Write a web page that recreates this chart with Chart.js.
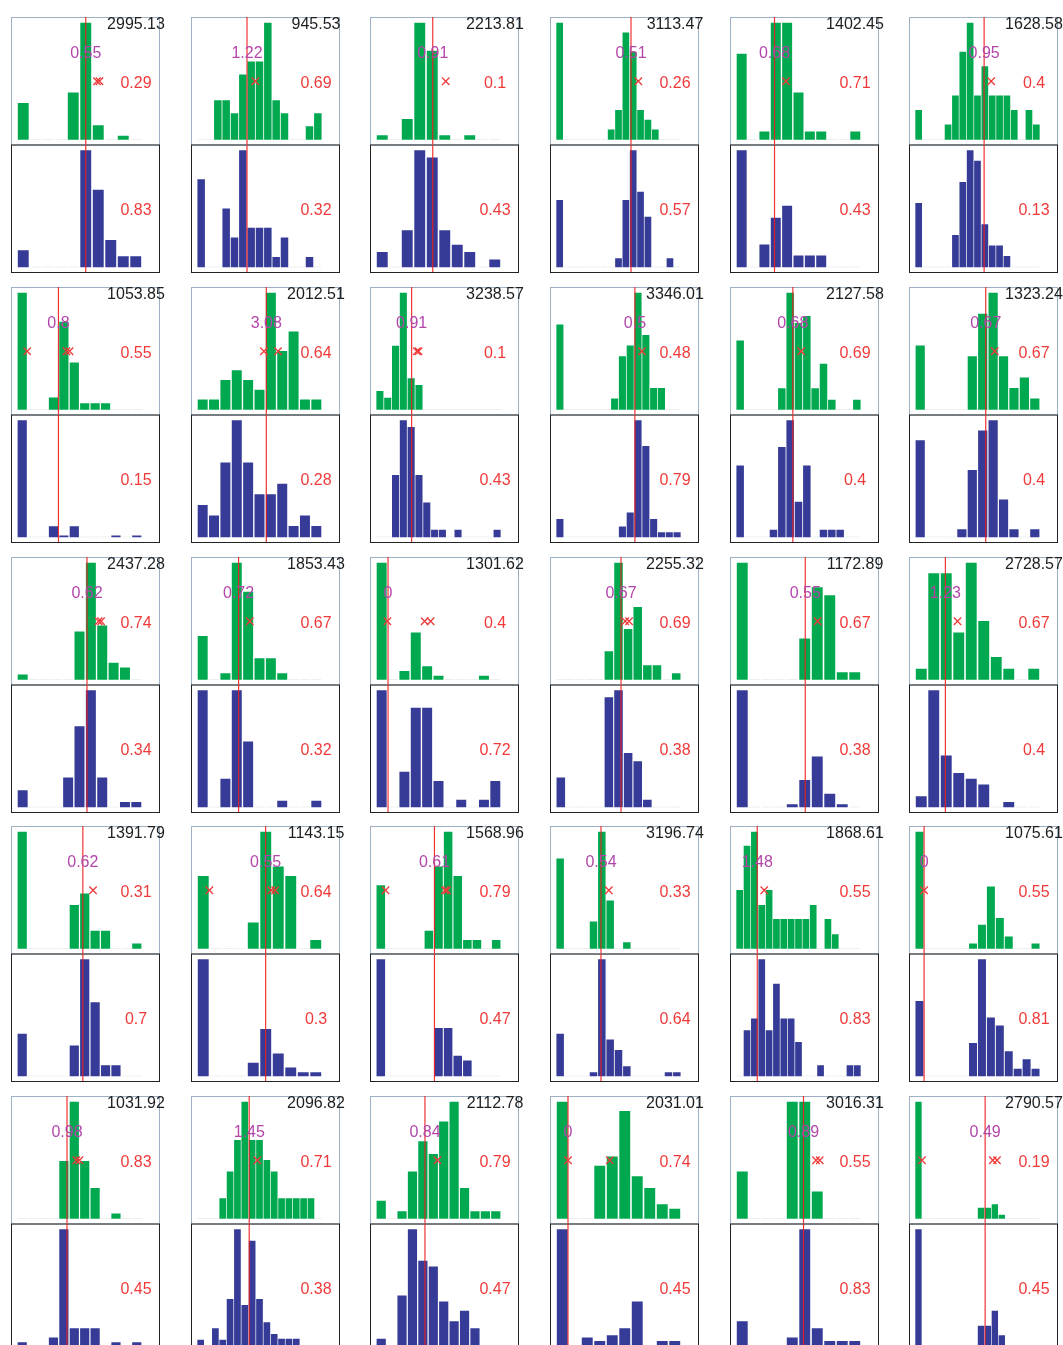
<!DOCTYPE html>
<html>
<head>
<meta charset="utf-8">
<script src="https://cdn.jsdelivr.net/npm/chart.js@4.4.1/dist/chart.umd.min.js"></script>
<style>
  html, body { margin: 0; padding: 0; background: #fff; overflow: hidden; }
  body { width: 1063px; height: 1345px; position: relative; }
  canvas { position: absolute; }
</style>
</head>
<body>
<script>
// panel order: row by row, 6 per row
const totals = ['2995.13', '945.53', '2213.81', '3113.47', '1402.45', '1628.58',
  '1053.85', '2012.51', '3238.57', '3346.01', '2127.58', '1323.24',
  '2437.28', '1853.43', '1301.62', '2255.32', '1172.89', '2728.57',
  '1391.79', '1143.15', '1568.96', '3196.74', '1868.61', '1075.61',
  '1031.92', '2096.82', '2112.78', '2031.01', '3016.31', '2790.57'];

const lineLabels = ['0.55', '1.22', '0.91', '0.51', '0.68', '0.95',
  '0.8', '3.08', '0.91', '0.5', '0.68', '0.67',
  '0.62', '0.72', '0', '0.67', '0.55', '1.23',
  '0.62', '0.55', '0.61', '0.54', '1.48', '0',
  '0.98', '1.45', '0.84', '0', '0.89', '0.49'];

const topScores = ['0.29', '0.69', '0.1', '0.26', '0.71', '0.4',
  '0.55', '0.64', '0.1', '0.48', '0.69', '0.67',
  '0.74', '0.67', '0.4', '0.69', '0.67', '0.67',
  '0.31', '0.64', '0.79', '0.33', '0.55', '0.55',
  '0.83', '0.71', '0.79', '0.74', '0.55', '0.19'];

const bottomScores = ['0.83', '0.32', '0.43', '0.57', '0.43', '0.13',
  '0.15', '0.28', '0.43', '0.79', '0.4', '0.4',
  '0.34', '0.32', '0.72', '0.38', '0.38', '0.4',
  '0.7', '0.3', '0.47', '0.64', '0.83', '0.81',
  '0.45', '0.38', '0.47', '0.45', '0.83', '0.45'];

// red line position, in bin units
const linePos = [5.0, 5.5, 4.04, 9.7, 2.89, 8.9,
  3.48, 5.6, 4.06, 9.6, 6.32, 6.29,
  5.66, 3.16, 0.56, 6.26, 5.04, 1.93,
  5.82, 4.99, 5.58, 4.9, 2.39, 0.52,
  4.3, 6.6, 4.2, 0.46, 4.9, 9.6];

// red x marks, in bin units
const markPos = [[5.9, 6.1], [6.5], [5.08], [10.7], [3.9], [9.86],
  [0.48, 4.25, 4.55], [5.39, 6.63], [4.73, 4.95], [10.5], [7.32], [7.16],
  [6.68, 6.9], [4.15], [0.5, 3.78, 4.31], [6.7, 7.1], [6.03], [2.9],
  [6.8], [0.49, 5.45, 5.75], [0.49, 6.67, 6.89], [5.84], [3.34], [0.52],
  [5.2, 5.5], [7.7], [5.4], [0.46, 3.8], [5.9, 6.2], [0.5, 10.7, 11.3]];

const greenBins = [
  [31, 0, 0, 0, 40, 100, 12, 0, 3, 0],
  [0, 0, 3, 3, 2, 5, 6, 6, 9, 3, 2, 0, 0, 1, 2],
  [1, 0, 5, 29, 22, 1, 0, 1, 0, 0],
  [12, 0, 0, 0, 0, 0, 0, 1, 3, 11, 9, 3, 2, 1, 0, 0, 0],
  [11, 0, 1, 15, 15, 6, 1, 1, 0, 0, 1],
  [2, 0, 0, 0, 1, 3, 6, 8, 3, 5, 3, 3, 3, 2, 0, 2, 1],
  [20, 0, 0, 2, 15, 8, 1, 1, 1, 0, 0, 0],
  [1, 1, 3, 4, 3, 2, 12, 6, 8, 1, 1],
  [2.7, 1.7, 9.4, 17.3, 4.6, 3.6, 0, 0, 0, 0, 0, 0, 0, 0, 0, 0],
  [8, 0, 0, 0, 0, 0, 0, 1, 5, 6, 11, 7, 2, 2, 0, 0],
  [59, 0, 0, 0, 0, 18, 100, 74, 80, 18, 39, 8, 0, 0, 8],
  [6, 0, 0, 0, 0, 5, 9, 11, 5, 2, 3, 1],
  [4, 0, 0, 0, 0, 41, 100, 46, 14, 10, 0],
  [37, 0, 5, 100, 75, 18, 18, 5, 0, 0, 0],
  [100, 0, 7, 40, 11, 3, 0, 0, 0, 3, 0],
  [0, 0, 0, 0, 0, 24, 100, 43, 62, 12, 12, 0, 5],
  [100, 0, 0, 0, 0, 35, 79, 72, 6, 6],
  [9, 91, 91, 40, 100, 50, 19, 9, 0, 9],
  [100, 0, 0, 0, 0, 37, 47, 15, 15, 0, 0, 4],
  [62, 0, 0, 0, 22, 100, 70, 62, 0, 7],
  [54, 0, 0, 0, 0, 15, 70, 100, 62, 7, 7, 0, 7],
  [77, 0, 0, 0, 23, 100, 41, 0, 5, 0, 0, 0, 0, 0, 0],
  [50, 88, 100, 37, 50, 25, 25, 25, 25, 25, 37, 0, 25, 12, 0, 0, 0],
  [100, 0, 0, 0, 0, 0, 4, 20, 53, 26, 10, 0, 0, 4],
  [0, 0, 0, 0, 49, 100, 49, 26, 0, 4, 0, 0],
  [0, 0, 0, 17, 40, 67, 100, 67, 67, 50, 40, 17, 17, 17, 17, 17, 0],
  [15, 0, 6, 40, 66, 55, 83, 100, 26, 6, 6, 6],
  [100, 0, 0, 45, 53, 92, 36, 26, 12, 8],
  [40, 0, 0, 0, 100, 100, 23, 0, 0, 0],
  [100, 0, 0, 0, 0, 0, 0, 0, 0, 9, 9, 12, 3, 0, 0, 0, 0, 0],
];

const blueBins = [
  [14, 0, 0, 0, 0, 100, 66, 23, 9, 9],
  [9, 0, 0, 6, 3, 12, 4, 4, 4, 1, 3, 0, 0, 1, 0],
  [2, 0, 5, 16, 15, 5, 3, 2, 0, 1],
  [8, 0, 0, 0, 0, 0, 0, 0, 1, 8, 14, 9, 6, 0, 0, 1, 0],
  [10.5, 0, 2, 4.4, 5.5, 1, 1, 1, 0, 0, 0],
  [6, 0, 0, 0, 0, 3, 8, 11, 10, 4, 2, 2, 1, 0, 0, 0, 0],
  [100, 0, 0, 9, 1, 9, 0, 0, 0, 1, 0, 1],
  [3, 2, 7, 11, 7, 4, 4, 5, 1, 2, 1],
  [0, 0, 9, 17, 16, 9, 5, 1, 1, 0, 1, 0, 0, 0, 0, 1],
  [4, 0, 0, 0, 0, 0, 0, 0, 2.3, 5.5, 26.5, 20.6, 4, 1, 1, 1],
  [61, 0, 0, 0, 6, 77, 100, 30, 61, 0, 6, 6, 6, 0, 0],
  [13, 0, 0, 0, 1, 9, 14.3, 15.7, 5, 1, 0, 1],
  [14, 0, 0, 0, 25, 69, 100, 25, 0, 4, 4],
  [100, 0, 24, 100, 56, 0, 0, 5, 0, 0, 5],
  [100, 0, 30, 85, 85, 22, 0, 6, 0, 6, 22],
  [25, 0, 0, 0, 0, 94, 100, 46, 39, 6, 0, 0, 0],
  [100, 0, 0, 0, 2, 23, 43, 11, 2, 0],
  [9, 100, 44, 29, 24, 19, 0, 4, 0, 0],
  [36, 0, 0, 0, 0, 26, 100, 63, 9, 9, 0, 0],
  [100, 0, 0, 0, 11, 40, 19, 7, 3, 3],
  [100, 0, 0, 0, 0, 0, 41, 41, 17, 13, 0, 0, 0],
  [36, 0, 0, 0, 3, 100, 31, 22, 8, 0, 0, 0, 0, 3, 3],
  [0, 39, 49, 100, 39, 79, 49, 49, 29, 0, 0, 9, 0, 0, 0, 9, 9],
  [64, 0, 0, 0, 0, 0, 28, 100, 50, 43, 21, 6, 14, 6],
  [3, 0, 0, 7, 100, 15, 15, 15, 0, 3, 0, 3],
  [5, 0, 15, 5, 40, 100, 35, 90, 40, 20, 10, 6, 6, 6, 0, 0, 0],
  [6, 0, 43, 100, 73, 68, 38, 21, 30, 15, 0, 0],
  [100, 0, 7, 4, 9, 15, 38, 0, 4, 4],
  [21, 0, 0, 0, 7, 100, 15, 4, 4, 4],
  [100, 0, 0, 0, 0, 0, 0, 0, 0, 17, 17, 30, 9, 0, 0, 0, 0, 0],
];

const COL_X = [11, 191, 370, 550, 730, 909];
const ROW_Y = [17, 287, 557, 826, 1096];

const GREEN = '#00a84f';
const BLUE = '#353b96';
const EMPTY = 'rgba(150,160,160,0.35)';
const RED = '#f03a3a';
const MAGENTA = '#b346aa';
const FONT = '16px "Liberation Sans", Arial, sans-serif';

Chart.defaults.font.family = '"Liberation Sans", Arial, sans-serif';

const panelText = {
  id: 'panelText',
  beforeDatasetsDraw(chart) {
    const { ctx, chartArea } = chart;
    const top = chart.scales.yTop, bot = chart.scales.yBot;
    ctx.save();
    ctx.lineWidth = 1;
    ctx.strokeStyle = '#9db0c4';
    ctx.strokeRect(chartArea.left + 0.5, top.top + 0.5, chartArea.width, top.height);
    ctx.strokeStyle = '#222';
    ctx.strokeRect(chartArea.left + 0.5, bot.top + 0.5, chartArea.width, bot.height);
    ctx.restore();
  },
  afterDatasetsDraw(chart, args, opts) {
    const { ctx, chartArea } = chart;
    const top = chart.scales.yTop, bot = chart.scales.yBot;
    const i = opts.idx;
    const cx = chartArea.left + 125;
    ctx.save();
    ctx.font = FONT;
    ctx.textAlign = 'center';
    ctx.textBaseline = 'alphabetic';
    ctx.fillStyle = '#1e1e1e';
    ctx.fillText(totals[i], cx, top.top + 11.5);
    ctx.fillStyle = MAGENTA;
    ctx.fillText(lineLabels[i], chart.scales.x.getPixelForValue(linePos[i]), top.top + 40.5);
    ctx.fillStyle = RED;
    ctx.fillText(topScores[i], cx, top.top + 70.5);
    ctx.fillText(bottomScores[i], cx, bot.top + 70.5);
    ctx.restore();
  }
};

function buildPanel(i) {
  const green = greenBins[i], blue = blueBins[i];
  const n = green.length;
  const binPx = 125 / n;
  const gMax = Math.max(...green), bMax = Math.max(...blue);
  const gLo = -gMax * 5 / 116.5, gHi = gMax * (1 + 6 / 116.5);
  const bLo = -bMax * 5 / 116.5, bHi = bMax * (1 + 6 / 116.5);

  const canvas = document.createElement('canvas');
  canvas.width = 184;
  canvas.height = 264;
  canvas.style.left = (COL_X[i % 6] - 4) + 'px';
  canvas.style.top = (ROW_Y[Math.floor(i / 6)] - 4) + 'px';
  document.body.appendChild(canvas);

  const redLine = {
    type: 'line', borderColor: 'rgba(238,30,30,0.9)', borderWidth: 1.2,
    pointRadius: 0, order: 2,
  };
  // empty bins show only as a faint stub on the baseline
  const fillFor = (color) => (c) => (c.raw && c.raw.y === 0 ? EMPTY : color);

  new Chart(canvas, {
    type: 'bar',
    data: {
      datasets: [
        {
          type: 'line', showLine: false, yAxisID: 'yTop', order: 1,
          data: markPos[i].map((x) => ({ x: x, y: gMax * 0.5 })),
          pointStyle: 'crossRot', pointRadius: 5.2, pointBorderWidth: 1.3,
          pointBorderColor: RED, pointBackgroundColor: RED,
        },
        { ...redLine, yAxisID: 'yTop', data: [{ x: linePos[i], y: gLo }, { x: linePos[i], y: gHi }] },
        { ...redLine, yAxisID: 'yBot', data: [{ x: linePos[i], y: bLo }, { x: linePos[i], y: bHi }] },
        {
          type: 'bar', yAxisID: 'yTop', stack: 'bins', order: 3,
          data: green.map((v, k) => ({ x: k, y: v })),
          backgroundColor: fillFor(GREEN), barThickness: binPx * 0.82, borderWidth: 0,
        },
        {
          type: 'bar', yAxisID: 'yBot', stack: 'bins', order: 3,
          data: blue.map((v, k) => ({ x: k, y: v })),
          backgroundColor: fillFor(BLUE), barThickness: binPx * 0.82, borderWidth: 0,
        },
      ],
    },
    options: {
      responsive: false,
      animation: false,
      devicePixelRatio: 1,
      events: [],
      layout: { autoPadding: false, padding: { left: 4, top: 4, right: 32, bottom: 5 } },
      plugins: {
        legend: { display: false },
        tooltip: { enabled: false },
        panelText: { idx: i },
      },
      scales: {
        x: {
          type: 'linear', display: false, offset: false,
          min: -0.5 - 6 / binPx, max: n - 0.5 + 17 / binPx,
        },
        yTop: {
          type: 'linear', display: false, position: 'left',
          stack: 'panel', stackWeight: 1, weight: 2, min: gLo, max: gHi,
        },
        yBot: {
          type: 'linear', display: false, position: 'left',
          stack: 'panel', stackWeight: 1, weight: 1, min: bLo, max: bHi,
        },
      },
    },
    plugins: [panelText],
  });
}

for (let i = 0; i < totals.length; i++) buildPanel(i);
</script>
</body>
</html>
